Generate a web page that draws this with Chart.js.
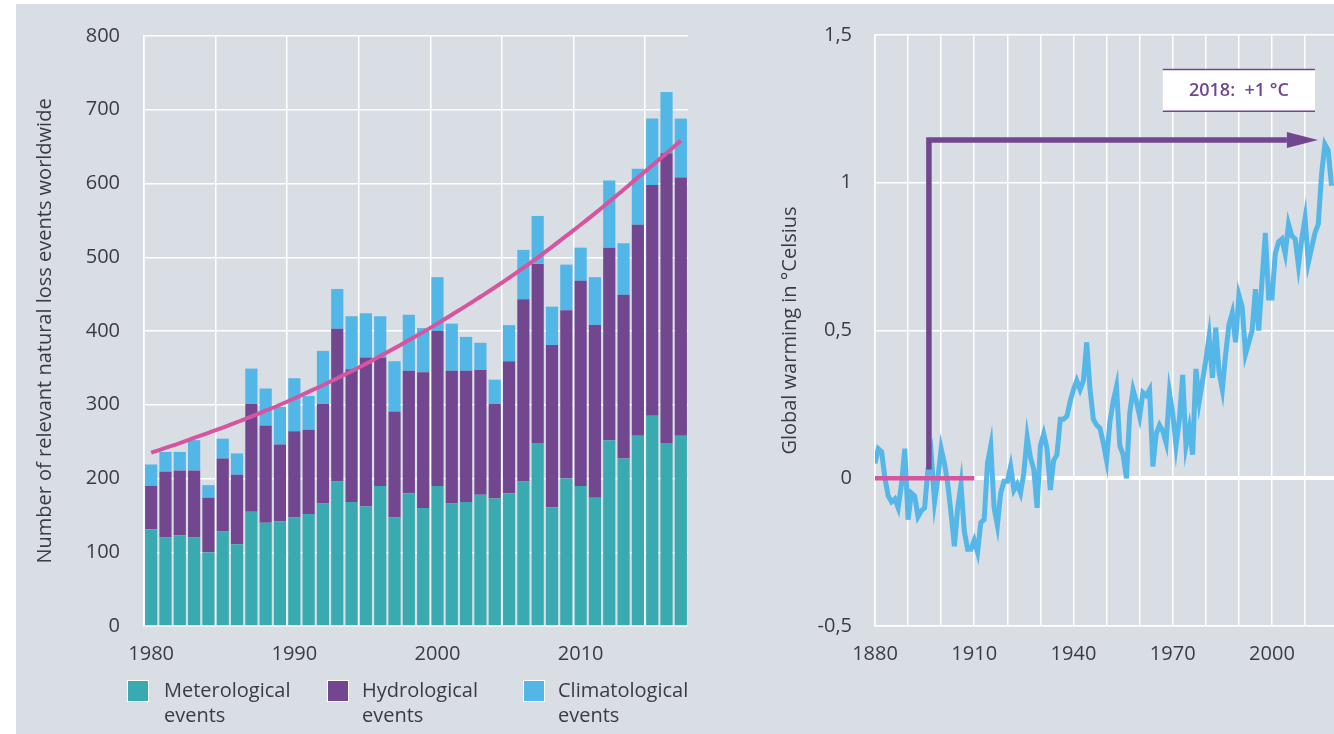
<!DOCTYPE html>
<html>
<head>
<meta charset="utf-8">
<script src="https://cdn.jsdelivr.net/npm/chart.js@4"></script>
<style>
  html, body { margin: 0; padding: 0; width: 1334px; height: 734px; overflow: hidden; background: #ffffff; font-family: "Open Sans", sans-serif; }
  #painel { position: absolute; left: 16px; top: 4px; width: 1318px; height: 730px; background: #d9dde4; }
  #esq { position: absolute; left: 30px; top: 0px; }
  #dir { position: absolute; left: 760px; top: 0px; }
  .leg_cor { position: absolute; top: 680px; width: 22px; height: 22px; box-sizing: border-box; border: 1px solid #ffffff; }
  .leg_txt { position: absolute; top: 677px; font-size: 20px; line-height: 25px; color: #3b3b44; }
</style>
</head>
<body>
<div id="painel"></div>
<canvas id="esq" width="670" height="680"></canvas>
<canvas id="dir" width="574" height="680"></canvas>

<div class="leg_cor" style="left:127px; background:#38aab0"></div>
<div class="leg_txt" style="left:164px">Meterological<br>events</div>
<div class="leg_cor" style="left:327px; background:#73478f"></div>
<div class="leg_txt" style="left:362px">Hydrological<br>events</div>
<div class="leg_cor" style="left:523px; background:#52b6e7"></div>
<div class="leg_txt" style="left:558px">Climatological<br>events</div>

<script>
// dados - eventos
const anos = ['1980','1981','1982','1983','1984','1985','1986','1987','1988','1989',
  '1990','1991','1992','1993','1994','1995','1996','1997','1998','1999',
  '2000','2001','2002','2003','2004','2005','2006','2007','2008','2009',
  '2010','2011','2012','2013','2014','2015','2016','2017']
const meteorologicos = [131,120,123,120,100,128,111,155,140,142,
  147,152,166,196,168,162,190,147,180,160,
  190,166,168,178,173,180,196,248,161,200,
  190,174,252,227,258,285,248,258]
const hidrologicos = [59,89,88,91,74,99,94,146,132,104,
  117,114,135,207,180,202,174,144,166,184,
  210,180,178,169,128,179,247,243,220,228,
  278,234,261,222,286,313,393,350]
const climatologicos = [29,27,25,41,17,27,29,48,50,51,
  72,46,72,54,72,60,56,68,76,60,
  73,64,46,37,33,49,67,65,52,62,
  45,65,91,70,76,90,83,80]
const tendencia = [235,241.5,248,255,262,269,276.5,284,292,300,
  308.5,317.5,326.5,336,345.5,355.5,366,376.5,387.5,398.5,
  410,422,434,446.5,459,472,485.5,499.5,514,529,
  544,559.5,575.5,591.5,608,624.5,641,658]

// dados - temperatura
const anosTemp = [1880,1881,1882,1883,1884,1885,1886,1887,1888,1889,
  1890,1891,1892,1893,1894,1895,1896,1897,1898,1899,
  1900,1901,1902,1903,1904,1905,1906,1907,1908,1909,
  1910,1911,1912,1913,1914,1915,1916,1917,1918,1919,
  1920,1921,1922,1923,1924,1925,1926,1927,1928,1929,
  1930,1931,1932,1933,1934,1935,1936,1937,1938,1939,
  1940,1941,1942,1943,1944,1945,1946,1947,1948,1949,
  1950,1951,1952,1953,1954,1955,1956,1957,1958,1959,
  1960,1961,1962,1963,1964,1965,1966,1967,1968,1969,
  1970,1971,1972,1973,1974,1975,1976,1977,1978,1979,
  1980,1981,1982,1983,1984,1985,1986,1987,1988,1989,
  1990,1991,1992,1993,1994,1995,1996,1997,1998,1999,
  2000,2001,2002,2003,2004,2005,2006,2007,2008,2009,
  2010,2011,2012,2013,2014,2015,2016,2017,2018]
const anomalia = [0.05,0.10,0.09,0.00,-0.06,-0.08,-0.07,-0.10,-0.02,0.10,
  -0.14,-0.05,-0.06,-0.13,-0.11,-0.10,0.03,0.08,-0.08,0.00,
  0.10,0.05,-0.02,-0.12,-0.23,-0.10,-0.02,-0.18,-0.24,-0.24,
  -0.21,-0.25,-0.15,-0.14,0.05,0.11,-0.10,-0.16,-0.05,-0.01,
  -0.01,0.04,-0.04,-0.02,-0.05,0.02,0.14,0.07,0.03,-0.10,
  0.11,0.15,0.10,-0.04,0.06,0.08,0.20,0.20,0.21,0.26,
  0.30,0.33,0.30,0.33,0.46,0.30,0.20,0.18,0.17,0.12,
  0.06,0.19,0.26,0.31,0.11,0.08,0.00,0.22,0.30,0.26,
  0.21,0.29,0.28,0.30,0.04,0.15,0.18,0.16,0.12,0.29,
  0.22,0.11,0.20,0.35,0.11,0.17,0.08,0.37,0.26,0.33,
  0.40,0.48,0.34,0.51,0.36,0.30,0.42,0.52,0.56,0.46,
  0.62,0.58,0.42,0.46,0.50,0.64,0.50,0.67,0.83,0.61,
  0.61,0.76,0.80,0.81,0.76,0.86,0.82,0.81,0.72,0.81,
  0.88,0.73,0.78,0.83,0.86,1.03,1.13,1.11,0.99]
const periodoBase = [1880, 1910]
const valorBase = [0, 0]

const corTexto = '#3b3b44'
const fonte = { family: 'Open Sans', size: 20 }
const roxo = '#72478f'

// inicio grafico eventos
const graficoEsq = new Chart(document.getElementById('esq'), {
  type: 'bar',
  data: {
    labels: anos,
    datasets: [
      { type: 'line', label: 'Trend', data: tendencia, stack: 'trend', order: 0,
        borderColor: '#d5559f', borderWidth: 4, pointRadius: 0, tension: 0.4, fill: false },
      { label: 'Meterological events', data: meteorologicos, backgroundColor: '#38aab0', order: 1 },
      { label: 'Hydrological events', data: hidrologicos, backgroundColor: '#73478f', order: 1 },
      { label: 'Climatological events', data: climatologicos, backgroundColor: '#52b6e7', order: 1 }
    ]
  },
  options: {
    responsive: false,
    animation: false,
    devicePixelRatio: 1,
    layout: { padding: { top: 13, right: 12, left: 0, bottom: 0 } },
    datasets: { bar: { categoryPercentage: 1, barPercentage: 0.85 } },
    plugins: { legend: { display: false }, tooltip: { enabled: false } },
    scales: {
      x: {
        stacked: true,
        grid: {
          offset: true, drawTicks: false, lineWidth: 1.5,
          color: (ctx) => (ctx.index % 5 === 0 || ctx.index === anos.length) ? '#ffffff' : 'rgba(0,0,0,0)'
        },
        border: { display: false },
        ticks: {
          autoSkip: false, maxRotation: 0, padding: 16, color: corTexto, font: fonte,
          callback: function (v) { var a = this.getLabelForValue(v); return Number(a) % 10 === 0 ? a : '' }
        },
        afterFit: (s) => { s.height = 54 }
      },
      y: {
        stacked: true, min: 0, max: 800,
        grid: { color: '#ffffff', lineWidth: 1.5, drawTicks: false },
        border: { color: '#ffffff', width: 1.5 },
        ticks: { stepSize: 100, padding: 24, color: corTexto, font: fonte },
        title: { display: true, text: 'Number of relevant natural loss events worldwide',
          color: corTexto, font: fonte, padding: { top: 3, bottom: 0 } },
        afterFit: (s) => { s.width = 114 }
      }
    }
  }
})
// fim grafico eventos

// seta e caixa do grafico de temperatura
const setaX = 1896.3
const setaBaixo = 0.03
const setaTopo = 1.145
const setaPonta = 2013.9
const setaBaseCabeca = 2004.5
const caixaX = [1967, 2013]
const caixaY = [1.383, 1.242]
const caixaTexto = '2018:  +1 °C'

const anotacao = {
  id: 'anotacao',
  afterDatasetsDraw(chart) {
    const c = chart.ctx
    const sx = chart.scales.x
    const sy = chart.scales.y
    c.save()
    c.strokeStyle = roxo
    c.fillStyle = roxo
    c.lineWidth = 5.5
    c.lineJoin = 'miter'
    c.beginPath()
    c.moveTo(sx.getPixelForValue(setaX), sy.getPixelForValue(setaBaixo))
    c.lineTo(sx.getPixelForValue(setaX), sy.getPixelForValue(setaTopo))
    c.lineTo(sx.getPixelForValue(setaBaseCabeca), sy.getPixelForValue(setaTopo))
    c.stroke()
    c.beginPath()
    c.moveTo(sx.getPixelForValue(setaBaseCabeca), sy.getPixelForValue(setaTopo) - 8)
    c.lineTo(sx.getPixelForValue(setaPonta), sy.getPixelForValue(setaTopo))
    c.lineTo(sx.getPixelForValue(setaBaseCabeca), sy.getPixelForValue(setaTopo) + 8)
    c.closePath()
    c.fill()

    var x0 = sx.getPixelForValue(caixaX[0]), x1 = sx.getPixelForValue(caixaX[1])
    var y0 = sy.getPixelForValue(caixaY[0]), y1 = sy.getPixelForValue(caixaY[1])
    c.fillStyle = '#ffffff'
    c.fillRect(x0, y0, x1 - x0, y1 - y0)
    c.lineWidth = 1.5
    c.beginPath()
    c.moveTo(x0, y0); c.lineTo(x1, y0)
    c.moveTo(x0, y1); c.lineTo(x1, y1)
    c.stroke()
    c.fillStyle = roxo
    c.font = '600 18px "Open Sans"'
    c.textAlign = 'center'
    c.textBaseline = 'middle'
    c.fillText(caixaTexto, (x0 + x1) / 2, (y0 + y1) / 2)
    c.restore()
  }
}

// inicio grafico temperatura
const graficoDir = new Chart(document.getElementById('dir'), {
  type: 'line',
  data: {
    datasets: [
      { label: 'Base', data: periodoBase.map((a, i) => ({ x: a, y: valorBase[i] })),
        borderColor: '#d5559f', borderWidth: 4.5, pointRadius: 0, order: 0 },
      { label: 'Global warming', data: anosTemp.map((a, i) => ({ x: a, y: anomalia[i] })),
        borderColor: '#55b7e8', borderWidth: 5, pointRadius: 0, tension: 0, order: 1 }
    ]
  },
  options: {
    responsive: false,
    animation: false,
    devicePixelRatio: 1,
    layout: { padding: { top: 13, right: 0, left: 0, bottom: 0 } },
    plugins: { legend: { display: false }, tooltip: { enabled: false } },
    scales: {
      x: {
        type: 'linear', min: 1880, max: 2018.75,
        grid: { color: '#ffffff', lineWidth: 1.5, drawTicks: false },
        border: { color: '#ffffff', width: 1.5 },
        ticks: {
          stepSize: 10, includeBounds: false, maxRotation: 0, autoSkip: false,
          padding: 16, color: corTexto, font: fonte,
          callback: (v) => (v - 1880) % 30 === 0 ? String(v) : ''
        },
        afterFit: (s) => { s.height = 54 }
      },
      y: {
        min: -0.5, max: 1.5,
        grid: { color: '#ffffff', drawTicks: false,
          lineWidth: (ctx) => ctx.tick && ctx.tick.value === 0 ? 4 : 1.5 },
        border: { color: '#ffffff', width: 1.5 },
        ticks: { stepSize: 0.5, padding: 23, color: corTexto, font: fonte,
          callback: (v) => String(v).replace('.', ',') },
        title: { display: true, text: 'Global warming in °Celsius',
          color: corTexto, font: fonte, padding: { top: 18, bottom: 0 } },
        afterFit: (s) => { s.width = 115 }
      }
    }
  },
  plugins: [anotacao]
})
// fim grafico temperatura
</script>
</body>
</html>
